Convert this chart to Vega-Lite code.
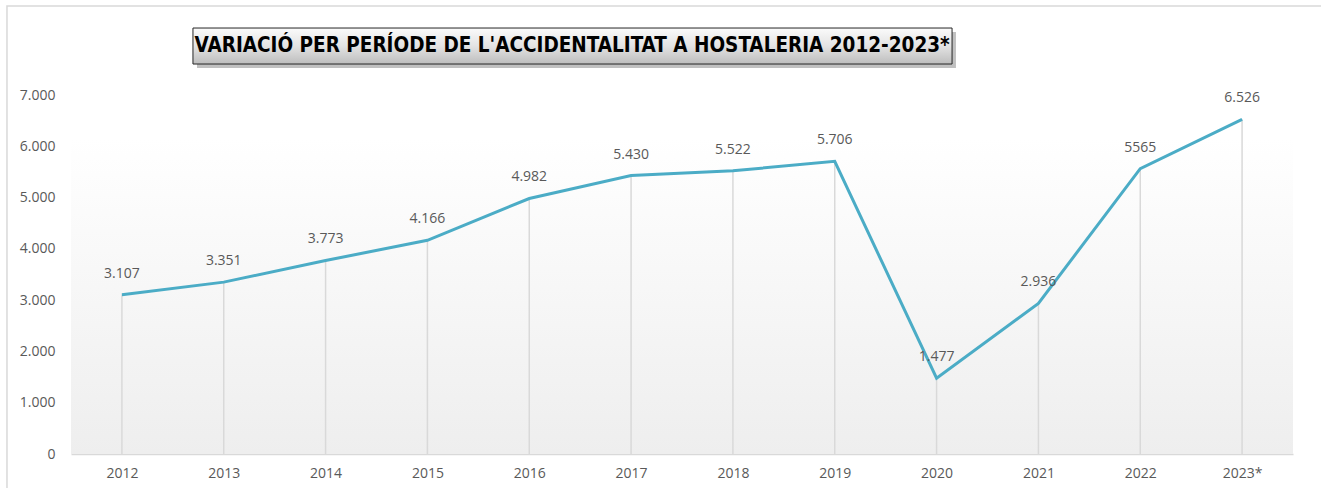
{
  "$schema": "https://vega.github.io/schema/vega-lite/v6.json",
  "width": 1222,
  "height": 359,
  "autosize": "none",
  "padding": {"left": 71, "top": 95, "right": 28, "bottom": 34},
  "background": "#ffffff",
  "config": {
    "view": {"stroke": null},
    "font": "Open Sans",
    "axis": {"labelFont": "Open Sans", "labelFontSize": 14, "labelColor": "#595959", "title": null}
  },
  "resolve": {"scale": {"x": "independent"}, "axis": {"x": "independent"}},
  "layer": [
    {
      "description": "plot area gradient fill",
      "data": {"values": [{"area": "plot"}]},
      "mark": {
        "type": "rect",
        "fill": {
          "gradient": "linear", "x1": 0, "y1": 0, "x2": 0, "y2": 1,
          "stops": [
            {"offset": 0, "color": "#ffffff"},
            {"offset": 0.12, "color": "#ffffff"},
            {"offset": 1, "color": "#eeeeee"}
          ]
        }
      },
      "encoding": {
        "x": {"datum": 0, "type": "quantitative", "scale": {"domain": [0, 1], "nice": false, "zero": false}, "axis": null},
        "x2": {"datum": 1},
        "y": {"datum": 0, "type": "quantitative", "scale": {"domain": [0, 7000], "nice": false}},
        "y2": {"datum": 7000}
      }
    },
    {
      "data": {
        "values": [
          {"year": "2012", "value": 3107, "label": "3.107"},
          {"year": "2013", "value": 3351, "label": "3.351"},
          {"year": "2014", "value": 3773, "label": "3.773"},
          {"year": "2015", "value": 4166, "label": "4.166"},
          {"year": "2016", "value": 4982, "label": "4.982"},
          {"year": "2017", "value": 5430, "label": "5.430"},
          {"year": "2018", "value": 5522, "label": "5.522"},
          {"year": "2019", "value": 5706, "label": "5.706"},
          {"year": "2020", "value": 1477, "label": "1.477"},
          {"year": "2021", "value": 2936, "label": "2.936"},
          {"year": "2022", "value": 5565, "label": "5565"},
          {"year": "2023*", "value": 6526, "label": "6.526"}
        ]
      },
      "encoding": {
        "x": {
          "field": "year", "type": "ordinal", "sort": null,
          "scale": {"type": "point", "padding": 0.5},
          "axis": {
            "domain": true, "domainColor": "#d9d9d9", "domainWidth": 1.5,
            "ticks": false, "grid": false, "labelAngle": 0, "labelPadding": 12
          }
        }
      },
      "layer": [
        {
          "mark": {"type": "rule", "color": "#d9d9d9", "strokeWidth": 1.5},
          "encoding": {
            "y": {"field": "value", "type": "quantitative", "scale": {"domain": [0, 7000], "nice": false},
              "axis": {
                "values": [0, 1000, 2000, 3000, 4000, 5000, 6000, 7000],
                "labelExpr": "replace(format(datum.value, ','), ',', '.')",
                "domain": false, "ticks": false, "grid": false, "labelPadding": 16
              }
            },
            "y2": {"datum": 0}
          }
        },
        {
          "mark": {"type": "line", "color": "#4bacc6", "strokeWidth": 3, "strokeJoin": "miter"},
          "encoding": {"y": {"field": "value", "type": "quantitative"}}
        },
        {
          "mark": {"type": "text", "fontSize": 14, "color": "#595959", "baseline": "alphabetic", "dy": -17},
          "encoding": {
            "y": {"field": "value", "type": "quantitative"},
            "text": {"field": "label"}
          }
        }
      ]
    },
    {
      "description": "chart frame and boxed title",
      "data": {"values": [{"title": "VARIACIÓ PER PERÍODE DE L'ACCIDENTALITAT A HOSTALERIA 2012-2023*"}]},
      "encoding": {
        "x": {"datum": 0, "type": "quantitative", "scale": {"domain": [0, 1], "nice": false, "zero": false}, "axis": null}
      },
      "layer": [
        {
          "mark": {"type": "rect", "fill": null, "stroke": "#d9d9d9", "strokeWidth": 1.5},
          "encoding": {
            "x": {"datum": -0.0524, "type": "quantitative"},
            "x2": {"datum": 1.03},
            "y": {"datum": 8735, "type": "quantitative"},
            "y2": {"datum": -800}
          }
        },
        {
          "mark": {"type": "rect", "fill": "#8c8c8c", "opacity": 0.55},
          "encoding": {
            "x": {"datum": 0.1031, "type": "quantitative"},
            "x2": {"datum": 0.7242},
            "y": {"datum": 8228, "type": "quantitative"},
            "y2": {"datum": 7526}
          }
        },
        {
          "mark": {
            "type": "rect", "stroke": "#262626", "strokeWidth": 1,
            "fill": {
              "gradient": "linear", "x1": 0, "y1": 0, "x2": 0, "y2": 1,
              "stops": [
                {"offset": 0, "color": "#fbfbfb"},
                {"offset": 0.5, "color": "#e3e3e3"},
                {"offset": 1, "color": "#bdbdbd"}
              ]
            }
          },
          "encoding": {
            "x": {"datum": 0.0998, "type": "quantitative"},
            "x2": {"datum": 0.721},
            "y": {"datum": 8306, "type": "quantitative"},
            "y2": {"datum": 7604}
          }
        },
        {
          "mark": {"type": "text", "font": "'DejaVu Sans Condensed', 'Liberation Sans', sans-serif", "fontWeight": "bold", "fontSize": 20.5, "color": "#000000", "baseline": "middle", "align": "center"},
          "encoding": {
            "x": {"datum": 0.4101, "type": "quantitative"},
            "y": {"datum": 7955, "type": "quantitative"},
            "text": {"field": "title"}
          }
        }
      ]
    }
  ]
}
